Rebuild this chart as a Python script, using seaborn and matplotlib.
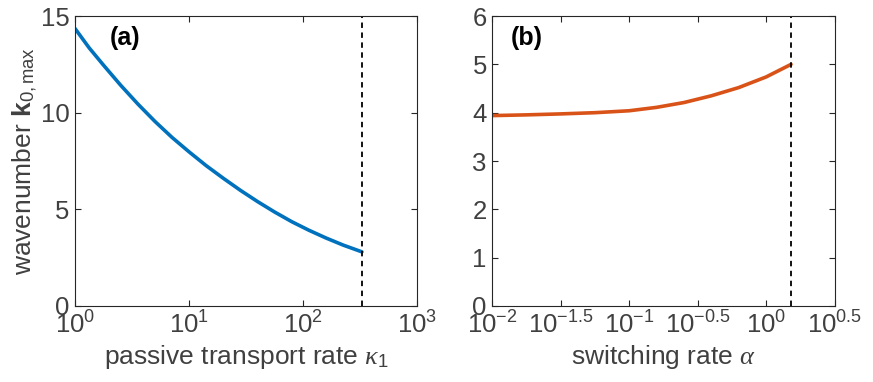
import numpy as np
import pandas as pd
import matplotlib
matplotlib.use('Agg')
import matplotlib.pyplot as plt
import seaborn as sns
from matplotlib.ticker import FixedLocator, FixedFormatter, NullLocator

# panel (a): wavenumber vs passive transport rate
kappa = [1, 1.33, 1.78, 2.51, 3.55, 5.01, 7.08, 10, 14.1, 20, 28.2, 39.8,
         56.2, 79.4, 112, 158, 224, 327]
k_a = [14.35, 13.35, 12.45, 11.42, 10.45, 9.55, 8.72, 7.97, 7.26, 6.60, 5.98,
       5.40, 4.86, 4.36, 3.92, 3.52, 3.15, 2.80]
kappa_crit = 327

# panel (b): wavenumber vs switching rate
alpha = [0.01, 0.0178, 0.0316, 0.0562, 0.1, 0.158, 0.251, 0.398, 0.631, 1.0, 1.52]
k_b = [3.94, 3.955, 3.975, 4.0, 4.04, 4.11, 4.21, 4.35, 4.52, 4.74, 5.00]
alpha_crit = 1.52

xticks_a = [1, 10, 100, 1000]
xlabels_a = ['0', '1', '2', '3']
xticks_b = [0.01, 0.0316228, 0.1, 0.316228, 1, 3.16228]
xlabels_b = ['-2', '-1.5', '-1', '-0.5', '0', '0.5']

sns.set_theme(style='ticks')
plt.rcParams['font.family'] = ['Liberation Sans', 'DejaVu Sans']
plt.rcParams['mathtext.fontset'] = 'custom'
plt.rcParams['mathtext.rm'] = 'Liberation Sans'
plt.rcParams['mathtext.bf'] = 'Liberation Sans:bold'
plt.rcParams['mathtext.it'] = 'Liberation Serif:italic'
plt.rcParams['axes.unicode_minus'] = False

grey = '#262626'
txt = '#404040'
fig = plt.figure(figsize=(8.73, 3.82), dpi=100)
ax1 = fig.add_axes([0.086, 0.199, 0.392, 0.759])
ax2 = fig.add_axes([0.564, 0.199, 0.392, 0.759])

df_a = pd.DataFrame({'x': kappa, 'y': k_a})
df_b = pd.DataFrame({'x': alpha, 'y': k_b})
sns.lineplot(data=df_a, x='x', y='y', ax=ax1, color='#0072BD', linewidth=2.6)
sns.lineplot(data=df_b, x='x', y='y', ax=ax2, color='#D95319', linewidth=2.6)

ax1.axvline(kappa_crit, color='black', linestyle='--', linewidth=1.3, dashes=(3, 2.5))
ax2.axvline(alpha_crit, color='black', linestyle='--', linewidth=1.3, dashes=(3, 2.5))

for ax, ticks, labs in [(ax1, xticks_a, xlabels_a), (ax2, xticks_b, xlabels_b)]:
    ax.set_xscale('log')
    ax.set_xlim(ticks[0], ticks[-1])
    ax.xaxis.set_major_locator(FixedLocator(ticks))
    ax.xaxis.set_major_formatter(FixedFormatter([r'$\mathdefault{10^{%s}}$' % l for l in labs]))
    ax.xaxis.set_minor_locator(NullLocator())
    ax.tick_params(direction='in', top=True, right=True, length=4, width=0.8,
                   labelsize=18.5, colors=grey, labelcolor=txt, pad=4)
    for s in ax.spines.values():
        s.set_color(grey)
        s.set_linewidth(0.8)

ax1.set_ylim(0, 15)
ax1.set_yticks([0, 5, 10, 15])
ax2.set_ylim(0, 6)
ax2.set_yticks([0, 1, 2, 3, 4, 5, 6])

ax1.set_xlabel(r'passive transport rate $\kappa_1$', fontsize=19, color=txt, labelpad=3)
ax2.set_xlabel(r'switching rate $\alpha$', fontsize=19, color=txt, labelpad=3)
ax1.set_ylabel(r'wavenumber $\mathbf{k}_{\mathrm{0,max}}$', fontsize=19, color=txt, labelpad=1)
ax2.set_ylabel('')

ax1.text(0.10, 0.925, '(a)', transform=ax1.transAxes, fontsize=18, fontweight='bold',
         color='black', va='center')
ax2.text(0.053, 0.925, '(b)', transform=ax2.transAxes, fontsize=18, fontweight='bold',
         color='black', va='center')

fig.savefig('out.png', dpi=100)
